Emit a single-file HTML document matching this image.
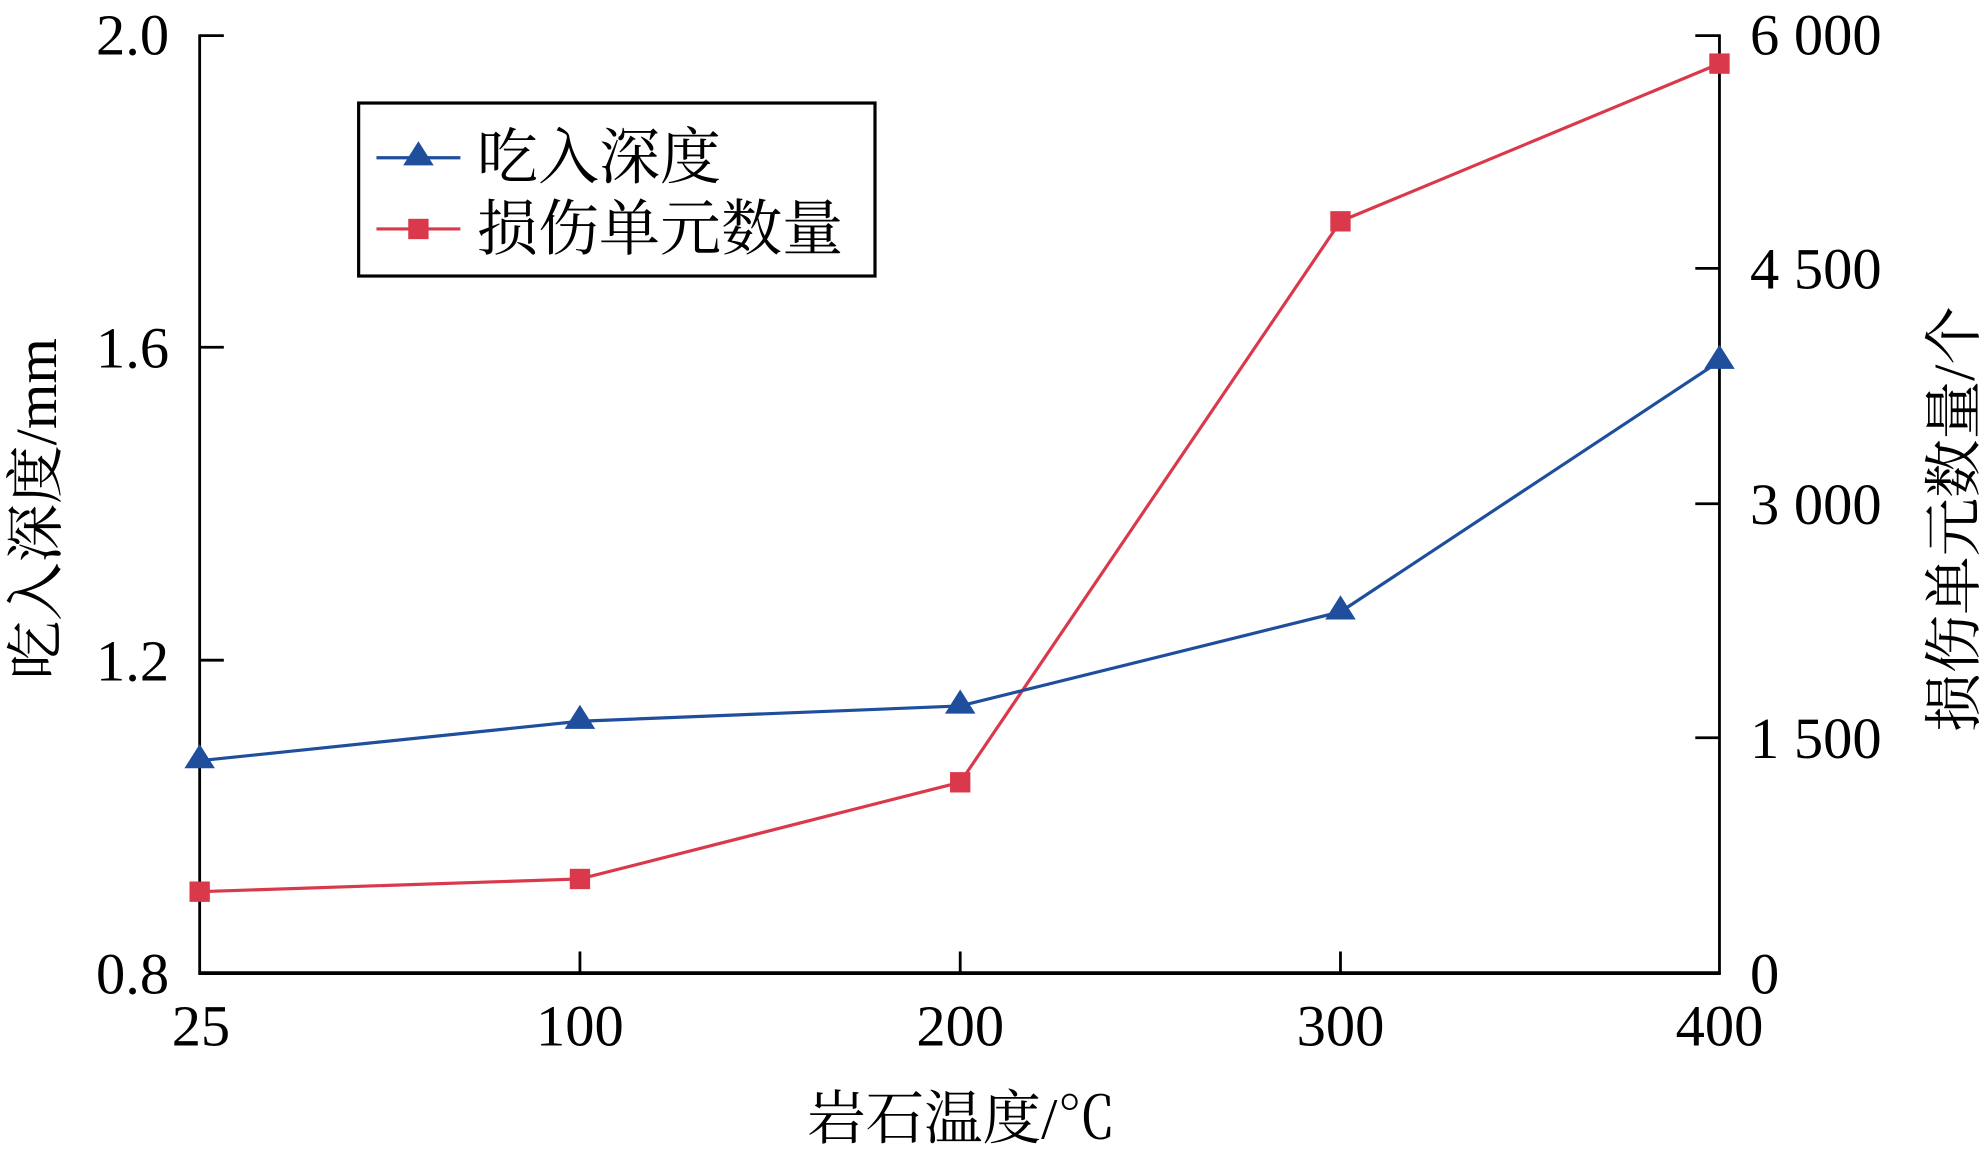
<!DOCTYPE html>
<html><head><meta charset="utf-8"><style>
html,body{margin:0;padding:0;background:#fff;}
svg{display:block;}
text{font-family:"Liberation Serif","Noto Serif CJK SC","Noto Sans CJK SC",serif;fill:#000;}
</style></head><body>
<svg width="1984" height="1155" viewBox="0 0 1560 908" preserveAspectRatio="none" xmlns="http://www.w3.org/2000/svg">
<rect width="1560" height="908" fill="#fff"/>
<line x1="157" y1="27" x2="157" y2="766" stroke="#000" stroke-width="2.2"/>
<line x1="1352" y1="27" x2="1352" y2="766" stroke="#000" stroke-width="2.2"/>
<line x1="156" y1="765" x2="1353" y2="765" stroke="#000" stroke-width="3"/>
<g stroke="#000" stroke-width="2.2">
<line x1="157" y1="28" x2="176" y2="28"/>
<line x1="157" y1="273" x2="176" y2="273"/>
<line x1="157" y1="519" x2="176" y2="519"/>
<line x1="1333" y1="28" x2="1352" y2="28"/>
<line x1="1333" y1="211" x2="1352" y2="211"/>
<line x1="1333" y1="396" x2="1352" y2="396"/>
<line x1="1333" y1="580" x2="1352" y2="580"/>
<line x1="456" y1="748" x2="456" y2="765"/>
<line x1="755" y1="748" x2="755" y2="765"/>
<line x1="1054" y1="748" x2="1054" y2="765"/>
</g>
<g font-size="46" text-anchor="end">
<text x="133" y="43">2.0</text>
<text x="133" y="289">1.6</text>
<text x="133" y="535">1.2</text>
<text x="133" y="781">0.8</text>
</g>
<g font-size="46" text-anchor="start">
<text x="1376" y="43">6 000</text>
<text x="1376" y="227">4 500</text>
<text x="1376" y="412">3 000</text>
<text x="1376" y="596">1 500</text>
<text x="1376" y="781">0</text>
</g>
<g font-size="46" text-anchor="middle">
<text x="158" y="822">25</text>
<text x="456" y="822">100</text>
<text x="755" y="822">200</text>
<text x="1054" y="822">300</text>
<text x="1352" y="822">400</text>
<text x="756" y="895">岩石温度/℃</text>
</g>
<text font-size="46" text-anchor="middle" transform="translate(44,400) rotate(-90)">吃入深度/mm</text>
<text font-size="46" text-anchor="middle" transform="translate(1552,408) rotate(-90)">损伤单元数量/个</text>
<polyline points="157,701 456,691 755,615 1054,174 1352,50" fill="none" stroke="#d9394a" stroke-width="2.5"/>
<g fill="#d9394a">
<rect x="149" y="693" width="16" height="16"/><rect x="448" y="683" width="16" height="16"/>
<rect x="747" y="607" width="16" height="16"/><rect x="1046" y="166" width="16" height="16"/>
<rect x="1344" y="42" width="16" height="16"/>
</g>
<polyline points="157,598 456,567 755,555 1054,481 1352,284" fill="none" stroke="#1f4e9c" stroke-width="2.5"/>
<g fill="#1f4e9c">
<polygon points="157,585 145,604 169,604"/><polygon points="456,554 444,573 468,573"/>
<polygon points="755,542 743,561 767,561"/><polygon points="1054,468 1042,487 1066,487"/>
<polygon points="1352,271 1340,290 1364,290"/>
</g>
<rect x="282" y="81" width="406" height="136" fill="#fff" stroke="#000" stroke-width="2.5"/>
<line x1="296" y1="124" x2="362" y2="124" stroke="#1f4e9c" stroke-width="2.5"/>
<polygon points="329,111 317,130 341,130" fill="#1f4e9c"/>
<line x1="296" y1="180" x2="362" y2="180" stroke="#d9394a" stroke-width="2.5"/>
<rect x="321" y="172" width="16" height="16" fill="#d9394a"/>
<text x="375" y="140" font-size="48">吃入深度</text>
<text x="375" y="196" font-size="48">损伤单元数量</text>
</svg>
</body></html>
